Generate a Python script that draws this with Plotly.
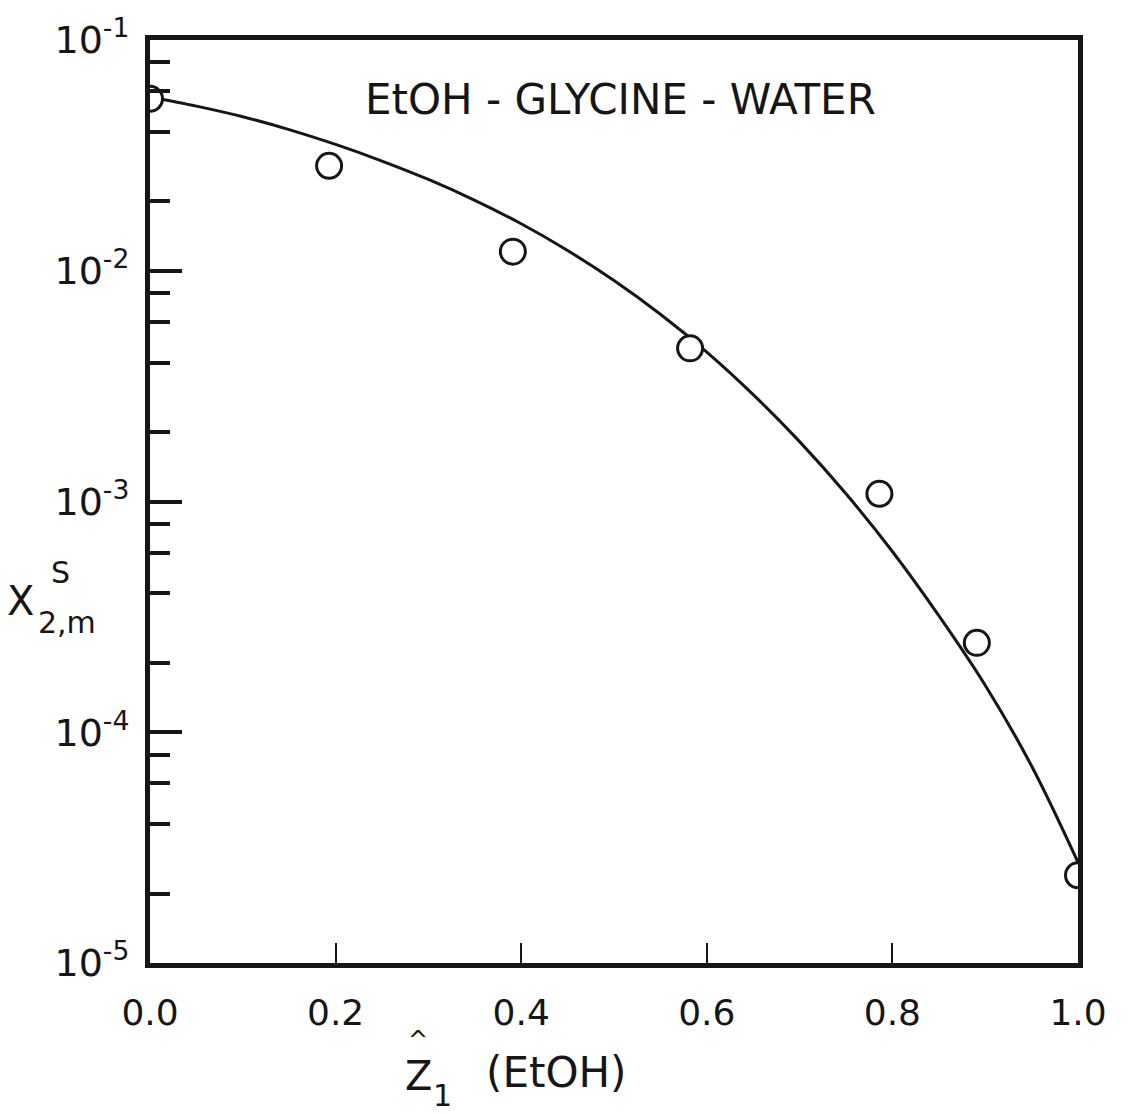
import plotly.graph_objects as go

# Fitted solubility curve, EtOH mole fraction vs glycine solubility
curve_z = [0.00, 0.05, 0.10, 0.15, 0.20, 0.25, 0.30, 0.35, 0.40, 0.45, 0.50,
           0.55, 0.60, 0.65, 0.70, 0.75, 0.80, 0.85, 0.90, 0.95, 1.00]
curve_x = [0.05667, 0.05170, 0.04650, 0.04088, 0.03527, 0.02988, 0.02486,
           0.02020, 0.01598, 0.01224, 0.009069, 0.006479, 0.004442, 0.002907,
           0.001817, 0.001080, 0.000607, 0.000320, 0.0001598, 0.0000714,
           0.0000273]

# Measured solubilities
exp_z = [0.0, 0.193, 0.391, 0.582, 0.786, 0.891, 1.0]
exp_x = [0.0556, 0.0285, 0.0121, 0.00461, 0.00108, 0.000244, 0.0000240]

x_tickvals = [0.0, 0.2, 0.4, 0.6, 0.8, 1.0]
x_ticktext = ["0.0", "0.2", "0.4", "0.6", "0.8", "1.0"]
y_tickvals = [1e-5, 1e-4, 1e-3, 1e-2, 1e-1]
y_ticktext = ["10<sup>-5</sup>", "10<sup>-4</sup>", "10<sup>-3</sup>",
              "10<sup>-2</sup>", "10<sup>-1</sup>"]
y_minor = [m * 10.0 ** e for e in range(-5, -1) for m in (2, 4, 6, 8)]

INK = "#161616"
FONT = "DejaVu Sans"

W, H = 1128, 1114
L, R, T, B = 150, 50, 38, 151
PW, PH = W - L - R, H - T - B


def px(xp):
    return (xp - L) / PW


def py(yp):
    return (H - B - yp) / PH


def label(fig, xp, yp, text, size):
    fig.add_annotation(
        xref="paper", yref="paper", x=px(xp), y=py(yp), text=text,
        showarrow=False, xanchor="center", yanchor="middle",
        font=dict(family=FONT, color=INK, size=size),
    )


fig = go.Figure()
fig.add_trace(go.Scatter(
    x=curve_z, y=curve_x, mode="lines",
    line=dict(color=INK, width=3, shape="spline", smoothing=1.0),
    hoverinfo="skip", showlegend=False,
))
fig.add_trace(go.Scatter(
    x=exp_z, y=exp_x, mode="markers",
    marker=dict(symbol="circle", size=25, color="white",
                line=dict(color=INK, width=3)),
    showlegend=False,
))

fig.update_layout(
    width=W, height=H,
    margin=dict(l=L, r=R, t=T, b=B),
    paper_bgcolor="white", plot_bgcolor="white",
    font=dict(family=FONT, color=INK, size=34),
    xaxis=dict(
        range=[0, 1], tickmode="array", tickvals=x_tickvals, ticktext=x_ticktext,
        ticks="inside", ticklen=20, tickwidth=2, tickcolor=INK,
        showline=True, linewidth=5, linecolor=INK, mirror=True,
        showgrid=False, zeroline=False,
        tickfont=dict(size=36, family=FONT, color=INK),
        ticklabelstandoff=14,
    ),
    yaxis=dict(
        type="log", range=[-5, -1], tickmode="array",
        tickvals=y_tickvals, ticktext=y_ticktext,
        ticks="inside", ticklen=32, tickwidth=4, tickcolor=INK,
        minor=dict(tickmode="array", tickvals=y_minor, ticks="inside",
                   ticklen=20, tickwidth=4, tickcolor=INK, showgrid=False),
        showline=True, linewidth=5, linecolor=INK, mirror=True,
        showgrid=False, zeroline=False,
        tickfont=dict(size=38, family=FONT, color=INK),
        ticklabelstandoff=8,
    ),
)

# Panel title
label(fig, 620, 98, "EtOH - GLYCINE - WATER", 42)

# y-axis label: X with superscript S and subscript 2,m
label(fig, 20, 600, "X", 40)
label(fig, 60, 572, "S", 30)
label(fig, 67, 622, "2,m", 30)

# x-axis label: Z-hat with subscript 1 (EtOH)
label(fig, 418, 1076, "Z", 40)
label(fig, 418, 1040, "^", 24)
label(fig, 442, 1096, "1", 30)
label(fig, 556, 1073, "(EtOH)", 42)

fig.write_html("out.html")
